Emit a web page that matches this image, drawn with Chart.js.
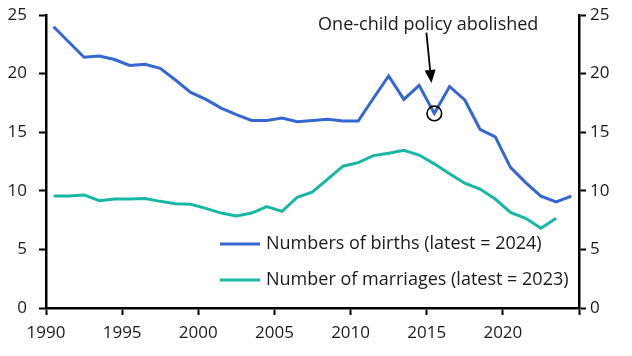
<!DOCTYPE html>
<html><head><meta charset="utf-8">
<script src="https://cdn.jsdelivr.net/npm/chart.js@4.4.1/dist/chart.umd.min.js"></script>
<style>html,body{margin:0;padding:0;background:#fff}#wrap{width:632px;height:356px}</style>
</head><body><div id="wrap"><canvas id="c" width="632" height="356"></canvas></div>
<script>
const birthYears = [1990,1991,1992,1993,1994,1995,1996,1997,1998,1999,2000,2001,2002,2003,2004,2005,2006,2007,2008,2009,2010,2011,2012,2013,2014,2015,2016,2017,2018,2019,2020,2021,2022,2023,2024];
const births = [24.0,22.7,21.4,21.5,21.2,20.7,20.8,20.45,19.45,18.4,17.8,17.05,16.5,16.0,16.0,16.2,15.9,16.0,16.1,15.95,15.95,17.9,19.8,17.8,19.0,16.6,18.9,17.75,15.25,14.6,12.0,10.7,9.55,9.05,9.55];
const marriageYears = [1990,1991,1992,1993,1994,1995,1996,1997,1998,1999,2000,2001,2002,2003,2004,2005,2006,2007,2008,2009,2010,2011,2012,2013,2014,2015,2016,2017,2018,2019,2020,2021,2022,2023];
const marriages = [9.55,9.55,9.65,9.15,9.3,9.3,9.35,9.1,8.9,8.85,8.5,8.1,7.85,8.1,8.65,8.25,9.45,9.9,11.0,12.1,12.4,13.0,13.2,13.45,13.05,12.3,11.45,10.65,10.15,9.3,8.15,7.65,6.8,7.65];
const xTicks = [1990,1995,2000,2005,2010,2015,2020,2025];
const yTicks = [0,5,10,15,20,25];
const seriesLabels = ['Numbers of births (latest = 2024)','Number of marriages (latest = 2023)'];
const annotationText = 'One-child policy abolished';
const annotationYear = 2015;

const FONT = 'Open Sans';
const TXT = '#1a1a1a';
const BLUE = '#3467d4';
const TEAL = '#17b8a3';
const TICK_SIZE = 17;
const TEXT_SIZE = 18;

const toPts = (ys, vs) => ys.map((y, i) => ({x: y + 0.5, y: vs[i]}));

const legendPlugin = {
  id: 'customLegend',
  afterDraw(chart) {
    const ctx = chart.ctx;
    const rows = [{c: BLUE, y: 244}, {c: TEAL, y: 280}];
    ctx.save();
    ctx.font = TEXT_SIZE + 'px "' + FONT + '"';
    ctx.textBaseline = 'middle';
    ctx.fillStyle = TXT;
    rows.forEach((r, i) => {
      ctx.strokeStyle = r.c; ctx.lineWidth = 3;
      ctx.beginPath(); ctx.moveTo(220, r.y); ctx.lineTo(260, r.y); ctx.stroke();
      ctx.fillText(seriesLabels[i], 266, r.y);
    });
    ctx.restore();
  }
};

const annotPlugin = {
  id: 'annot',
  afterDraw(chart) {
    const ctx = chart.ctx, xs = chart.scales.x, ys = chart.scales.y;
    const idx = birthYears.indexOf(annotationYear);
    const cx = xs.getPixelForValue(annotationYear + 0.5), cy = ys.getPixelForValue(births[idx]);
    ctx.save();
    ctx.strokeStyle = '#000'; ctx.fillStyle = '#000'; ctx.lineWidth = 1.6;
    ctx.beginPath(); ctx.arc(cx, cy, 7.3, 0, Math.PI * 2); ctx.stroke();
    const x1 = xs.getPixelForValue(annotationYear - 0.02), y1 = ys.getPixelForValue(23.5);
    const x2 = xs.getPixelForValue(annotationYear + 0.31), y2 = ys.getPixelForValue(19.2);
    const ang = Math.atan2(y2 - y1, x2 - x1);
    ctx.lineWidth = 1.8;
    ctx.beginPath(); ctx.moveTo(x1, y1); ctx.lineTo(x2 - 9 * Math.cos(ang), y2 - 9 * Math.sin(ang)); ctx.stroke();
    ctx.beginPath();
    ctx.moveTo(x2, y2);
    ctx.lineTo(x2 - 13 * Math.cos(ang) + 5.5 * Math.sin(ang), y2 - 13 * Math.sin(ang) - 5.5 * Math.cos(ang));
    ctx.lineTo(x2 - 13 * Math.cos(ang) - 5.5 * Math.sin(ang), y2 - 13 * Math.sin(ang) + 5.5 * Math.cos(ang));
    ctx.closePath(); ctx.fill();
    ctx.font = TEXT_SIZE + 'px "' + FONT + '"';
    ctx.fillStyle = TXT; ctx.textAlign = 'center'; ctx.textBaseline = 'alphabetic';
    ctx.fillText(annotationText, xs.getPixelForValue(annotationYear + 0.1), ys.getPixelForValue(23.73));
    ctx.restore();
  }
};

const axisCommon = {
  grid: {display: true, drawOnChartArea: false, drawTicks: true, tickLength: 7, tickColor: '#000', tickWidth: 2},
  border: {display: true, color: '#000', width: 2.5},
};
const noPad = s => { s.paddingTop = 0; s.paddingBottom = 0; s.paddingLeft = 0; s.paddingRight = 0; };

new Chart(document.getElementById('c'), {
  type: 'line',
  data: {
    datasets: [
      {label: seriesLabels[0], data: toPts(birthYears, births), borderColor: BLUE, borderWidth: 3, pointRadius: 0, tension: 0, yAxisID: 'y'},
      {label: seriesLabels[1], data: toPts(marriageYears, marriages), borderColor: TEAL, borderWidth: 3, pointRadius: 0, tension: 0, yAxisID: 'y'}
    ]
  },
  options: {
    responsive: false, animation: false, devicePixelRatio: 1,
    layout: {padding: {top: 15, left: 0, right: 0, bottom: 0}},
    plugins: {legend: {display: false}, tooltip: {enabled: false}},
    scales: {
      x: {
        type: 'linear', min: 1990, max: 2025,
        afterBuildTicks: s => { s.ticks = xTicks.map(v => ({value: v})); },
        ticks: {font: {family: FONT, size: TICK_SIZE}, color: TXT, padding: 8, maxRotation: 0, autoSkip: false,
          callback: v => v === 2025 ? '' : String(v)},
        afterFit: s => { s.height = 48; noPad(s); },
        ...axisCommon
      },
      y: {
        position: 'left', min: 0, max: 25,
        afterBuildTicks: s => { s.ticks = yTicks.map(v => ({value: v})); },
        ticks: {font: {family: FONT, size: TICK_SIZE}, color: TXT, padding: 12},
        afterFit: s => { s.width = 46; noPad(s); },
        ...axisCommon
      },
      y2: {
        position: 'right', min: 0, max: 25,
        afterBuildTicks: s => { s.ticks = yTicks.map(v => ({value: v})); },
        ticks: {font: {family: FONT, size: TICK_SIZE}, color: TXT, padding: 4},
        afterFit: s => { s.width = 53; noPad(s); },
        ...axisCommon
      }
    }
  },
  plugins: [legendPlugin, annotPlugin]
});
</script></body></html>
